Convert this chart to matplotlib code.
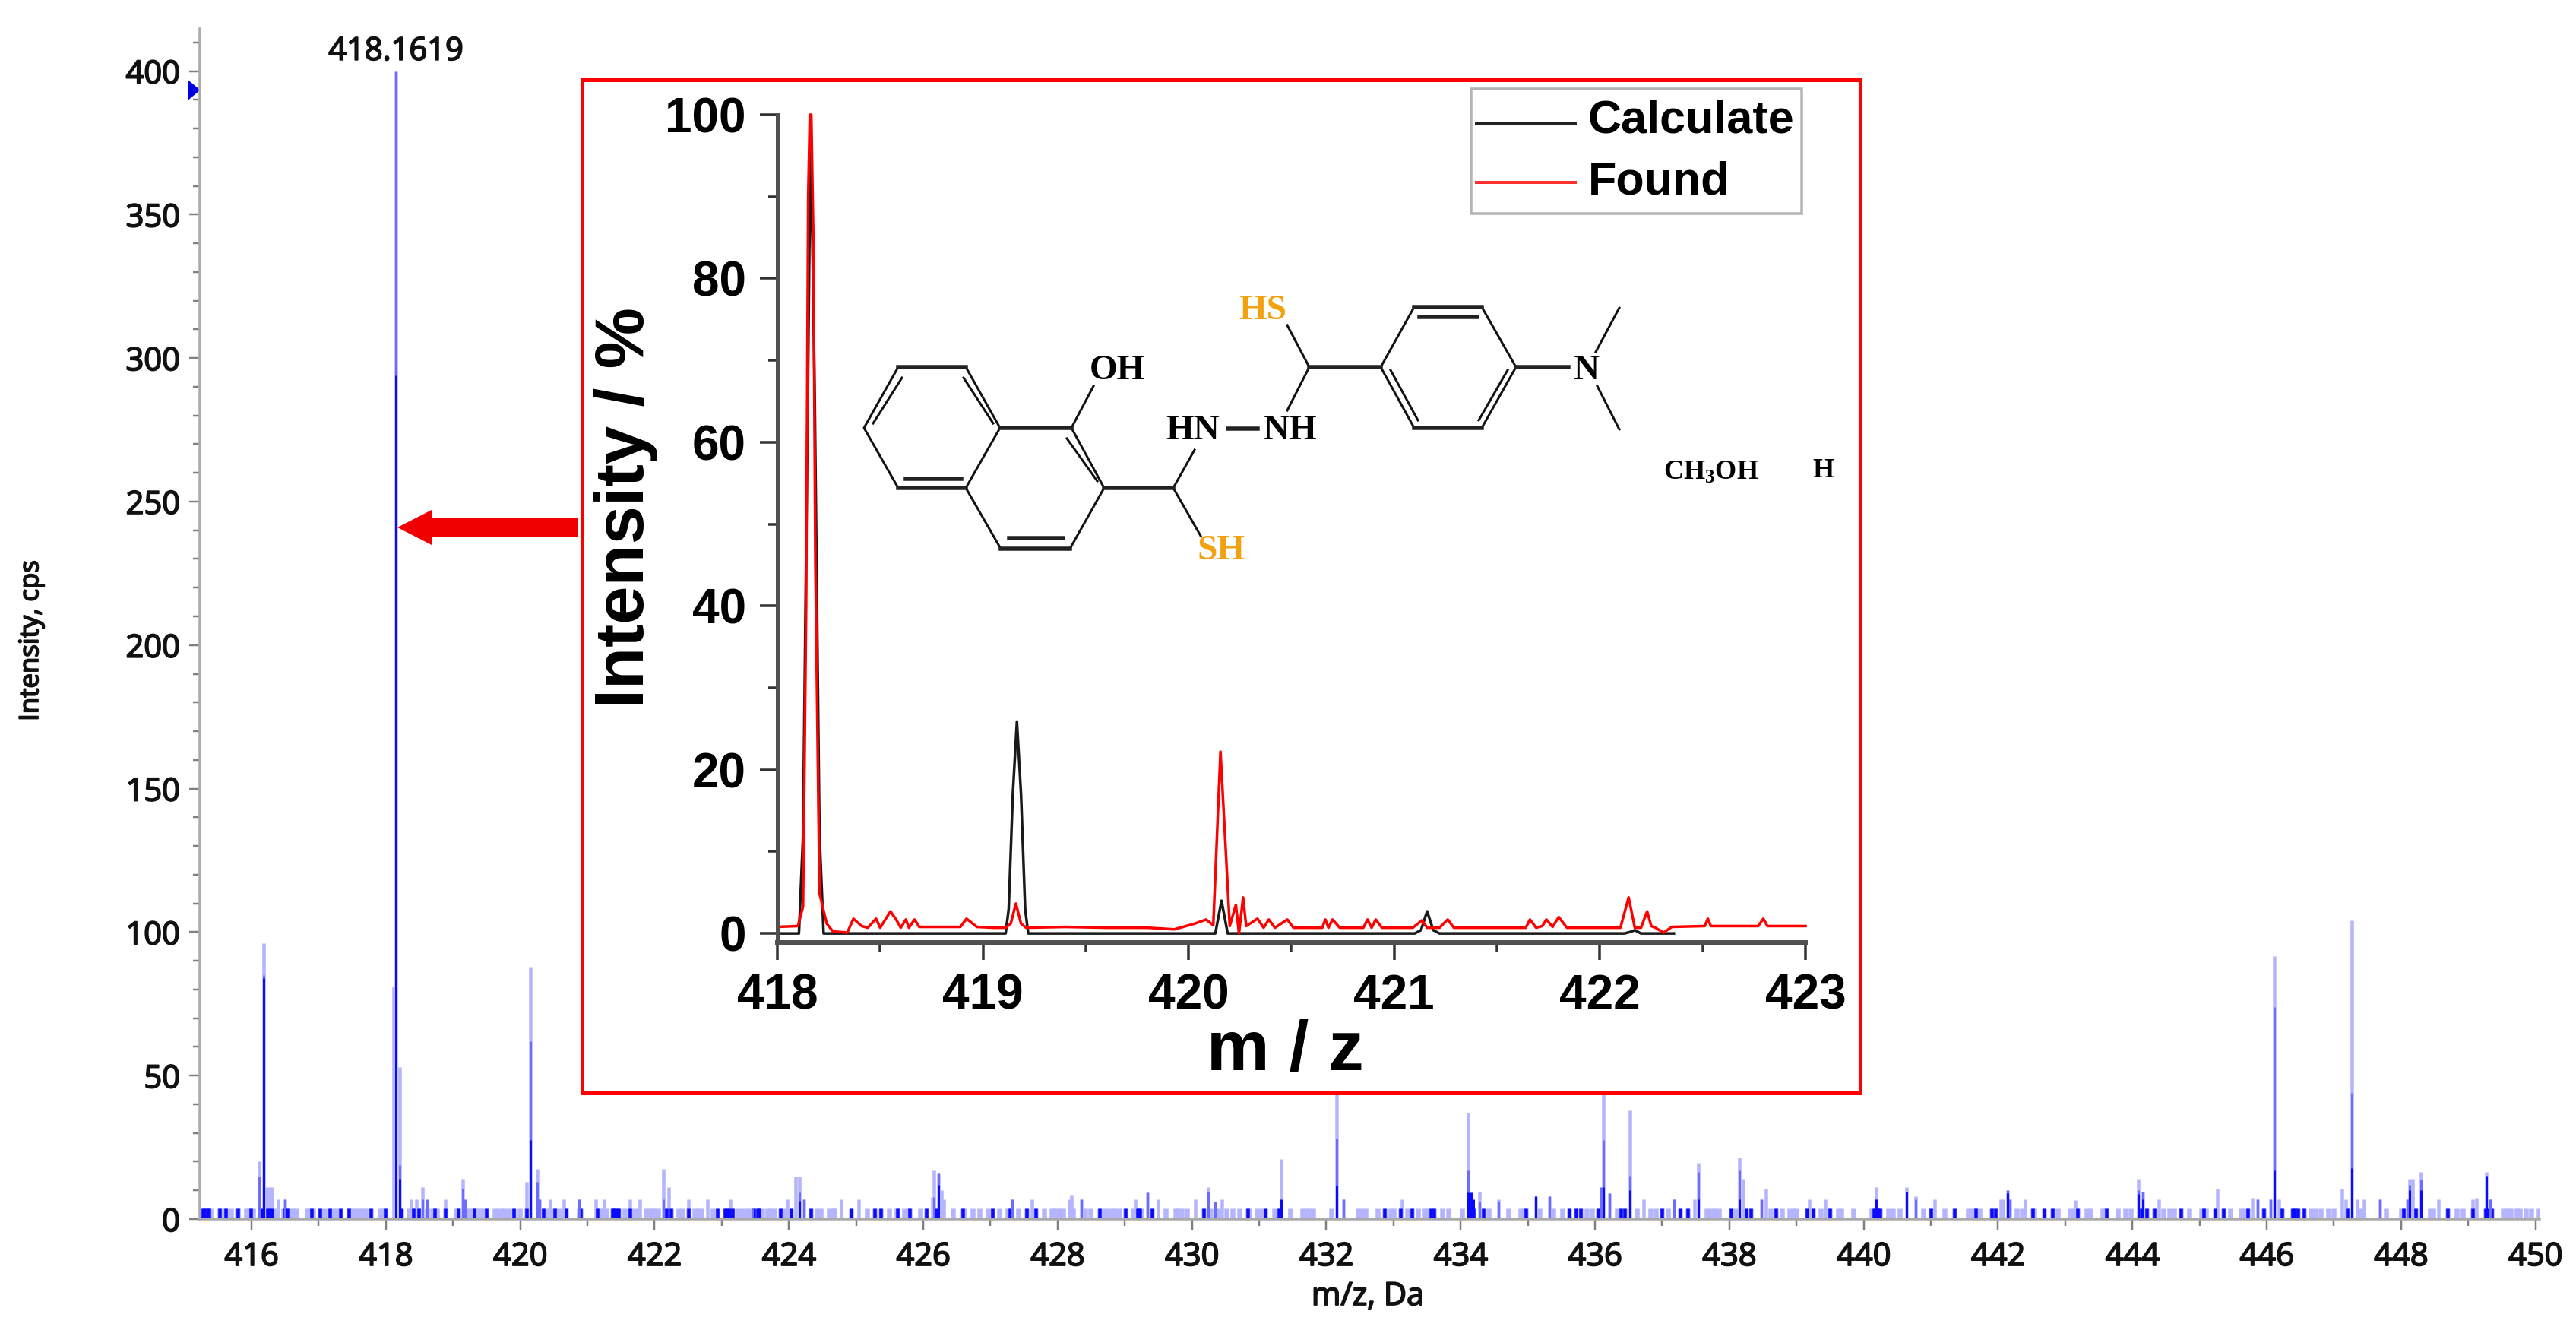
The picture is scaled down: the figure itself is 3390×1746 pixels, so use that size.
import matplotlib
matplotlib.use("Agg")
import matplotlib.pyplot as plt
import matplotlib.patheffects as pe
from matplotlib.patches import Rectangle, Polygon
from matplotlib.path import Path
from matplotlib.ticker import MultipleLocator

# --- DATA ---
# main spectrum: tall peaks, three intensity levels as they show in the picture
light_mz = [416.11, 416.18, 416.22, 416.27, 416.31, 416.39, 416.50, 418.11, 418.15, 418.20, 418.37, 418.45,
            418.55, 418.88, 419.14, 420.09, 420.15, 420.25, 420.29, 420.45, 420.65, 420.87, 421.12, 421.25,
            421.63, 421.78, 422.13, 422.21, 422.50, 422.79, 423.13, 423.97, 424.10, 424.15, 424.22, 424.78,
            425.04, 426.14, 426.16, 426.22, 426.27, 426.30, 427.32, 427.62, 428.17, 428.20, 428.35, 429.16,
            429.34, 429.50, 430.05, 430.24, 430.34, 430.45, 431.33, 432.15, 432.26, 433.13, 434.105, 434.16,
            434.28, 434.56, 435.12, 435.32, 436.12, 436.21, 436.52, 436.72, 437.17, 437.48, 437.54, 438.15,
            438.20, 438.48, 438.54, 439.19, 439.43, 440.18, 440.64, 440.77, 441.06, 442.04, 442.07, 442.14,
            442.18, 442.40, 443.15, 444.09, 444.16, 444.39, 445.26, 445.78, 445.86, 446.06, 446.11, 446.18,
            447.12, 447.18, 447.27, 447.35, 447.45, 447.69, 448.09, 448.13, 448.17, 448.29, 448.56, 449.06,
            449.12, 449.27, 449.32]
light_h = [20, 96, 11, 11, 11, 7, 7, 81, 400, 53, 7, 7,
           11, 7, 14, 13, 88, 17.4, 7, 7, 7, 7, 7, 7,
           7, 7, 17.4, 11, 7, 7, 7, 7, 14.7, 14.7, 7, 7,
           7, 7.7, 17, 16, 10, 7, 7, 7, 7, 8.5, 7, 7,
           9.4, 7, 7, 11, 6, 7, 21, 45, 7, 7, 37, 9.4,
           9.5, 7, 8, 8, 46, 9, 38, 7, 7, 7, 19.6, 21.5,
           14, 7, 10.5, 7, 7, 11, 11, 8, 7, 7, 7, 10,
           7, 7, 6.5, 14, 9.5, 7, 10.5, 7.5, 7, 7, 91.6, 7,
           10.5, 7, 104, 7, 7, 7, 7, 14, 14, 16.5, 7, 7,
           7.5, 16.5, 7]

mid_mz = [416.11, 416.18, 416.50, 418.15, 418.20, 418.55, 418.61, 419.14, 419.18, 420.15, 420.25, 420.29,
          420.87, 422.13, 423.45, 424.15, 424.22, 426.16, 426.22, 427.32, 428.35, 429.34, 430.24, 430.34,
          432.15, 432.26, 434.105, 434.28, 434.56, 435.32, 436.09, 436.12, 436.21, 436.52, 437.17, 437.54,
          438.15, 438.48, 440.18, 440.64, 440.77, 442.14, 442.18, 444.09, 444.16, 445.86, 446.06, 446.11,
          447.27, 447.69, 448.09, 448.13, 448.29, 449.27, 449.32]
mid_h = [14.7, 85, 7, 400, 18.7, 7, 7, 10.5, 7, 62, 13, 7,
         7, 7, 3.7, 9.4, 7, 7.7, 16, 7, 7, 9.4, 9.5, 6,
         28, 7, 17, 6, 6, 8, 11, 27.5, 9, 15, 7, 16.5,
         17, 7, 7, 9.5, 7, 10, 7, 10, 9.5, 7, 7, 74,
         44, 7, 7, 12, 13.8, 15, 7]

dark_mz = [416.18, 418.15, 418.20, 420.15, 424.15, 426.22, 431.33, 432.15, 434.105, 434.16, 434.19, 435.12,
           436.12, 436.52, 437.54, 438.15, 440.18, 440.64, 442.14, 444.09, 444.16, 446.11, 447.27, 448.13,
           448.29, 449.27]
dark_h = [84, 294, 14, 27.5, 6.3, 12, 7, 11.7, 9.4, 9.4, 7, 8,
          11, 10, 7, 7, 7, 9.5, 9, 8.8, 7, 17, 17.8, 10,
          10, 15]

# baseline noise, every mark is one count (3.7 cps)
noise_light = [415.24, 415.32, 415.39, 415.52, 415.62, 415.69, 415.78, 415.80, 415.92, 415.95, 416.02, 416.34,
               416.47, 416.58, 416.62, 416.67, 416.82, 416.85, 416.92, 417.08, 417.22, 417.27, 417.45, 417.51,
               417.55, 417.60, 417.65, 417.70, 417.91, 417.95, 418.34, 418.37, 418.41, 418.45, 418.69, 418.73,
               418.76, 419.04, 419.08, 419.23, 419.27, 419.31, 419.36, 419.39, 419.44, 419.62, 419.68, 419.73,
               419.76, 419.82, 419.99, 420.38, 420.45, 420.54, 420.60, 421.18, 421.22, 421.28, 421.55, 421.66,
               421.72, 421.87, 421.92, 421.97, 422.00, 422.05, 422.36, 422.41, 422.59, 422.64, 422.70, 422.87,
               423.24, 423.31, 423.37, 423.42, 423.60, 423.68, 423.73, 423.78, 423.92, 424.42, 424.47, 424.60,
               424.65, 424.68, 425.16, 425.49, 425.60, 425.72, 425.77, 425.95, 426.44, 426.61, 426.73, 426.84,
               426.96, 427.13, 427.25, 427.41, 427.80, 427.91, 427.95, 428.00, 428.03, 428.08, 428.23, 428.41,
               428.49, 428.69, 428.74, 428.80, 428.85, 428.92, 429.12, 429.25, 429.61, 429.76, 429.79, 429.84,
               429.93, 430.27, 430.39, 430.51, 430.60, 430.71, 430.85, 430.97, 431.03, 431.23, 431.46, 431.64,
               431.69, 431.75, 431.80, 432.07, 432.47, 432.52, 432.58, 432.76, 432.96, 433.00, 433.21, 433.36,
               433.47, 433.50, 433.73, 433.82, 434.02, 434.42, 434.71, 434.89, 434.93, 435.17, 435.38, 435.51,
               435.87, 435.95, 436.33, 436.62, 436.82, 436.90, 437.08, 437.66, 437.72, 437.78, 437.84, 438.09,
               438.61, 438.78, 438.90, 438.95, 439.00, 439.36, 439.62, 439.66, 439.85, 440.12, 440.37, 440.43,
               440.54, 440.89, 441.20, 441.55, 441.60, 441.65, 441.72, 441.93, 442.28, 442.36, 442.54, 442.89,
               443.07, 443.11, 443.32, 443.38, 443.55, 443.58, 443.78, 443.89, 443.97, 444.46, 444.55, 444.62,
               444.85, 445.03, 445.09, 445.46, 445.61, 445.65, 446.66, 446.72, 446.80, 446.92, 447.00, 447.40,
               447.77, 448.00, 448.43, 448.48, 448.83, 448.92, 449.08, 449.52, 449.58, 449.63, 449.72, 449.77,
               449.86, 449.94, 450.05]
noise_dark = [415.28, 415.30, 415.34, 415.37, 415.52, 415.62, 415.80, 415.99, 416.16, 416.24, 416.27, 416.31,
              416.50, 416.53, 416.89, 417.02, 417.17, 417.32, 417.45, 417.77, 417.99, 418.23, 418.41, 418.49,
              418.61, 418.73, 418.88, 419.08, 419.18, 419.31, 419.50, 419.90, 420.09, 420.34, 420.51, 420.68,
              420.87, 420.90, 421.15, 421.37, 421.40, 421.43, 421.46, 421.63, 422.18, 422.24, 422.50, 422.93,
              423.05, 423.08, 423.12, 423.16, 423.48, 423.53, 423.56, 423.87, 424.03, 424.33, 424.92, 425.27,
              425.37, 425.62, 425.80, 426.04, 426.19, 426.59, 427.03, 427.29, 427.54, 427.67, 428.62, 429.01,
              429.19, 429.22, 429.40, 430.17, 430.83, 431.09, 431.29, 432.86, 433.10, 433.27, 433.55, 433.60,
              434.19, 434.34, 434.97, 435.62, 435.72, 435.78, 436.04, 436.38, 436.44, 436.99, 437.27, 437.38,
              438.02, 438.25, 438.32, 438.69, 439.15, 439.24, 439.50, 440.15, 440.21, 440.24, 441.00, 441.35,
              441.67, 441.90, 441.96, 442.52, 442.68, 442.81, 443.18, 443.61, 444.13, 444.21, 444.32, 444.72,
              445.06, 445.23, 445.35, 445.72, 445.95, 446.23, 446.38, 446.42, 446.46, 446.55, 447.20, 448.03,
              448.22, 448.69, 449.06, 449.26, 449.30, 449.35]

y_major = [0, 50, 100, 150, 200, 250, 300, 350, 400]
x_major = list(range(416, 451, 2))
peak_mz = 418.15
peak_label = "418.1619"

# inset: theoretical pattern
calc_mz = [418.00, 418.105, 418.125, 418.148, 418.162, 418.182, 418.205, 418.225, 419.11, 419.125, 419.145, 419.165,
           419.185, 419.205, 419.22, 420.13, 420.145, 420.16, 420.175, 420.19, 421.10, 421.13,
           421.16, 421.19, 421.22, 422.12, 422.15, 422.17, 422.20, 422.36]
calc_int = [0, 0, 12, 65, 99, 65, 12, 0, 0, 3, 17, 25.9,
            17, 3, 0, 0, 2, 4, 2, 0, 0, 0.4,
            2.7, 0.4, 0, 0, 0.2, 0.4, 0, 0]

# inset: measured pattern
found_mz = [418.00, 418.10, 418.125, 418.14, 418.15, 418.158, 418.165, 418.175, 418.185, 418.205, 418.22, 418.24, 418.27, 418.34,
            418.37, 418.41, 418.44, 418.48, 418.50, 418.55, 418.58, 418.60, 418.625, 418.64, 418.667, 418.69,
            418.80, 418.89, 418.92, 418.97, 419.05, 419.11, 419.135, 419.16, 419.185, 419.21, 419.40, 419.60,
            419.80, 419.93, 420.03, 420.085, 420.12, 420.155, 420.18, 420.20, 420.23, 420.245, 420.265, 420.28,
            420.335, 420.365, 420.39, 420.42, 420.48, 420.51, 420.65, 420.665, 420.68, 420.70, 420.735, 420.85,
            420.87, 420.89, 420.91, 420.94, 421.09, 421.135, 421.16, 421.22, 421.26, 421.29, 421.64, 421.66,
            421.69, 421.72, 421.74, 421.77, 421.80, 421.84, 422.10, 422.14, 422.17, 422.20, 422.23, 422.25,
            422.27, 422.31, 422.35, 422.51, 422.525, 422.54, 422.77, 422.795, 422.815, 423.00]
found_int = [0.8, 0.9, 3.3, 40, 90, 100, 100, 85, 45, 4.9, 3.3, 1.2, 0.25, 0.1,
             1.8, 0.9, 0.7, 1.8, 0.7, 2.7, 1.6, 0.7, 1.7, 0.7, 1.7, 0.8,
             0.8, 0.8, 1.8, 0.8, 0.7, 0.7, 1.2, 3.65, 1.2, 0.7, 0.8, 0.7,
             0.7, 0.5, 1.2, 1.7, 1.0, 22.2, 10.5, 0.9, 3.5, 0, 4.4, 0.9,
             1.8, 0.7, 1.7, 0.7, 1.7, 0.7, 0.7, 1.7, 0.7, 1.7, 0.7, 0.7,
             1.7, 0.7, 1.7, 0.7, 0.7, 1.6, 0.7, 0.7, 1.7, 0.7, 0.7, 1.7,
             0.7, 0.9, 1.7, 0.8, 2.0, 0.7, 0.7, 4.4, 0.7, 0.7, 2.7, 0.9,
             0.7, 0.1, 0.8, 0.9, 1.8, 0.9, 0.9, 1.8, 0.9, 0.9]
inset_x = [418, 419, 420, 421, 422, 423]
inset_y = [0, 20, 40, 60, 80, 100]

# --- STYLE ---
W, H = 3391, 1746
px = 0.72  # one pixel in points at dpi 100
BLUE_LIGHT = "#B4B4FF"
BLUE_MID = "#6C6CFF"
BLUE_DARK = "#0A0AFF"
ORANGE = "#F2A20F"
TEXT = "#111111"
plt.rcParams["font.family"] = ["Open Sans", "DejaVu Sans"]
plt.rcParams["mathtext.fontset"] = "custom"
plt.rcParams["mathtext.bf"] = "Liberation Serif:bold"
plt.rcParams["mathtext.rm"] = "Liberation Serif:bold"
heavy = [pe.withStroke(linewidth=1.3, foreground=TEXT)]


def rect(left, top, right, bottom):
    return [left / W, 1 - bottom / H, (right - left) / W, (bottom - top) / H]


fig = plt.figure(figsize=(W / 100, H / 100), dpi=100, facecolor="white")

# 1. MAIN SPECTRUM
ax = fig.add_axes(rect(263, 38, 3342, 1604))
ax.vlines(light_mz, 0, light_h, color=BLUE_LIGHT, lw=4.5 * px)
ax.vlines(noise_light + noise_dark, 0, 3.7, color=BLUE_LIGHT, lw=6.5 * px)
ax.vlines(noise_dark, 0, 3.7, color=BLUE_DARK, lw=4.5 * px)
ax.vlines(mid_mz, 0, mid_h, color=BLUE_MID, lw=3 * px)
ax.vlines(dark_mz, 0, dark_h, color=BLUE_DARK, lw=3 * px)
ax.set_xlim(415.23, 450.06)
ax.set_ylim(0, 414.7)
for side in ["top", "right"]:
    ax.spines[side].set_visible(False)
for side in ["left", "bottom"]:
    ax.spines[side].set_color("#AAAAAA")
    ax.spines[side].set_linewidth(3.5 * px)
ax.set_xticks(x_major)
ax.set_yticks(y_major)
ax.xaxis.set_minor_locator(MultipleLocator(1))
ax.yaxis.set_minor_locator(MultipleLocator(10))
ax.tick_params(which="major", length=14 * px, width=2.5 * px, color="#808080", labelsize=30, labelcolor=TEXT)
ax.tick_params(which="minor", length=9 * px, width=2.5 * px, color="#808080")
ax.tick_params(axis="x", which="major", pad=15 * px)
ax.tick_params(axis="y", which="major", pad=12 * px)
for lab in ax.get_xticklabels() + ax.get_yticklabels():
    lab.set_path_effects(heavy)
ax.text(peak_mz, 406.8, peak_label, fontsize=30, ha="center", va="center", color=TEXT, clip_on=False, path_effects=heavy)
ax.plot([0], [393.5], transform=ax.get_yaxis_transform(), marker=Path([(-1.2, -1), (0, 0), (-1.2, 1)]),
        ms=32 * px, color="#0000E0", mew=0, clip_on=False)

# overlay in picture pixels, for everything that is not on a data scale
ov = fig.add_axes([0, 0, 1, 1], zorder=3)
ov.set_xlim(0, W)
ov.set_ylim(H, 0)
ov.axis("off")
ov.text(1800, 1706, "m/z, Da", fontsize=30, ha="center", va="center", color=TEXT, path_effects=heavy)
ov.text(41, 843, "Intensity, cps", fontsize=25, rotation=90, ha="center", va="center", color=TEXT, path_effects=heavy)

# red frame and arrow
ov.add_patch(Rectangle((766, 105), 2448 - 766, 1438 - 105, fc="white", ec="#FF0000", lw=5 * px))
ov.add_patch(Polygon([(760, 682), (568, 682), (568, 671), (523, 694), (568, 717), (568, 706), (760, 706)],
                     fc="#F00000", ec="none"))

# 2. INSET
ins = fig.add_axes(rect(1023, 151, 2376, 1240), zorder=4)
ins.patch.set_alpha(0)
ins.plot(calc_mz, calc_int, color="#1A1A1A", lw=3.5 * px, label="Calculate", clip_on=False)
ins.plot(found_mz, found_int, color="#FF0000", lw=3.5 * px, label="Found", clip_on=False)
ins.set_xlim(418, 423)
ins.set_ylim(-1.1, 100)
for side in ["top", "right"]:
    ins.spines[side].set_visible(False)
ins.spines["left"].set_color("#505050")
ins.spines["left"].set_linewidth(5 * px)
ins.spines["bottom"].set_color("#505050")
ins.spines["bottom"].set_linewidth(6 * px)
ins.set_xticks(inset_x)
ins.set_yticks(inset_y)
ins.xaxis.set_minor_locator(MultipleLocator(0.5))
ins.yaxis.set_minor_locator(MultipleLocator(10))
ins.tick_params(which="major", length=23 * px, width=3.5 * px, color="#333333", pad=18 * px)
ins.tick_params(which="minor", length=12 * px, width=3.5 * px, color="#333333")
for lab in ins.get_xticklabels() + ins.get_yticklabels():
    lab.set_family("Liberation Sans")
    lab.set_weight("bold")
    lab.set_size(46)
    lab.set_color("black")
ov.text(1691, 1384, "m / z", fontsize=67, family="Liberation Sans", weight="bold", ha="center", va="center")
ov.text(824, 668, "Intensity / %", fontsize=65, family="Liberation Sans", weight="bold", rotation=90,
        ha="center", va="center")

# legend
ov.add_patch(Rectangle((1936, 117), 2371 - 1936, 281 - 117, fc="white", ec="#B4B4B4", lw=3.5 * px, zorder=5))
ov.plot([1943, 2073], [163, 163], color="#222222", lw=4 * px, zorder=6)
ov.plot([1943, 2073], [240, 240], color="#FF3030", lw=4 * px, zorder=6)
ov.text(2090, 159, "Calculate", fontsize=44, family="Liberation Sans", weight="bold", va="center", zorder=6)
ov.text(2090, 240, "Found", fontsize=44, family="Liberation Sans", weight="bold", va="center", zorder=6)

# 3. STRUCTURE
thin = [
    [(1182, 483), (1137, 563), (1182, 642)],
    [(1271, 483), (1316, 563), (1271, 642)],
    [(1271, 642), (1317, 722)],
    [(1408, 722), (1453, 642), (1410, 563)],
    [(1187, 497), (1149, 557)],
    [(1268, 497), (1307, 557)],
    [(1404, 577), (1444, 633)],
    [(1410, 563), (1439, 508)],
    [(1544, 642), (1572, 592)],
    [(1544, 642), (1580, 705)],
    [(1694, 540), (1723, 483), (1694, 428)],
    [(1817, 483), (1861, 404)],
    [(1950, 404), (1995, 483), (1950, 563)],
    [(1817, 483), (1861, 563)],
    [(1830, 487), (1866, 553)],
    [(1984, 487), (1946, 553)],
    [(2100, 463), (2131, 405)],
    [(2102, 508), (2131, 565)],
]
thick = [
    [(1182, 483), (1271, 483)],
    [(1182, 642), (1271, 642)],
    [(1192, 630), (1265, 630)],
    [(1316, 563), (1410, 563)],
    [(1453, 642), (1544, 642)],
    [(1317, 722), (1408, 722)],
    [(1328, 708), (1399, 708)],
    [(1616, 564), (1655, 564)],
    [(1723, 483), (1817, 483)],
    [(1861, 404), (1950, 404)],
    [(1868, 417), (1944, 417)],
    [(1861, 563), (1950, 563)],
    [(1995, 483), (2064, 483)],
]
for seg in thin:
    ov.plot(*zip(*seg), color="#111111", lw=3 * px)
for seg in thick:
    ov.plot(*zip(*seg), color="#222222", lw=5.5 * px)
serif = dict(family="Liberation Serif", weight="bold", ha="center", va="center")
ov.text(1470, 488, "OH", fontsize=34, **serif)
ov.text(1570, 567, "HN", fontsize=34, **serif)
ov.text(1698, 567, "NH", fontsize=34, **serif)
ov.text(1662, 409, "HS", fontsize=34, color=ORANGE, **serif)
ov.text(1607, 725, "SH", fontsize=34, color=ORANGE, **serif)
ov.text(2087, 488, "N", fontsize=34, **serif)
ov.text(2252, 622, r"$\mathbf{CH_3OH}$", fontsize=26, ha="center", va="center")
ov.text(2399, 619, "H", fontsize=26, **serif)

fig.savefig("out.png", dpi=100)
